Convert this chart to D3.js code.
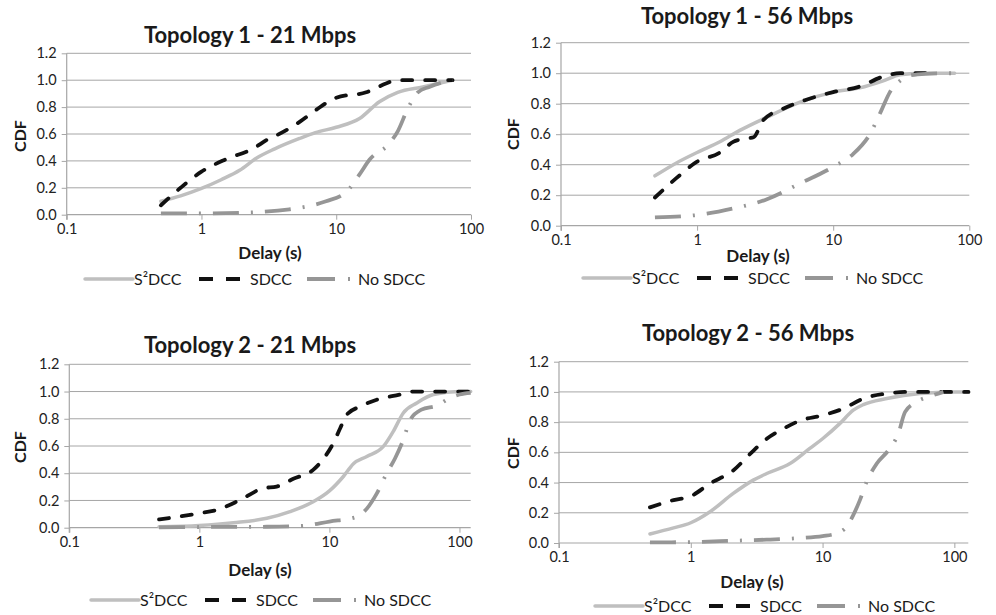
<!DOCTYPE html>
<html lang="en">
<head>
<meta charset="UTF-8">
<title>Delay CDF</title>
<script src="https://d3js.org/d3.v7.min.js"></script>
<style>
    html, body { margin: 0; background: #fff; }
    text { font-family: Lato, "Open Sans", sans-serif; fill: #1a1a1a; }
    .tick text { font-size: 14.5px; fill: #222; }
</style>
</head>
<body>
<svg id="chart" width="996" height="615"></svg>
<script>
// [delay (s), CDF]
var t1r21S2dcc = [[0.5,0.1],[0.7,0.14],[1,0.195],[1.4,0.26],[1.92,0.33],[2.55,0.42],[3.5,0.49],[5.35,0.567],[7,0.61],[10,0.65],[14.9,0.715],[20.9,0.84],[28.6,0.91],[43.9,0.95],[73,1.0]];
var t1r21Sdcc = [[0.5,0.07],[0.7,0.2],[1,0.32],[1.5,0.41],[2.4,0.49],[3.2,0.567],[3.6,0.59],[5.35,0.69],[7.1,0.78],[10,0.87],[16.7,0.91],[23.4,0.975],[27.8,1.0],[73,1.0]];
var t1r21NoSdcc = [[0.5,0.01],[1,0.01],[2,0.015],[4.5,0.04],[6,0.06],[8.4,0.1],[11.9,0.17],[14.9,0.3],[17.7,0.41],[24.8,0.53],[28.6,0.62],[34,0.79],[40.3,0.91],[49,0.95],[65,0.99],[73,1.0]];

var t1r56S2dcc = [[0.49,0.327],[0.7,0.41],[1,0.48],[1.47,0.55],[2.06,0.625],[3.23,0.71],[5.7,0.81],[10,0.876],[15.7,0.904],[23.3,0.95],[31,0.99],[44,1.0],[78,1.0]];
var t1r56Sdcc = [[0.49,0.185],[0.7,0.31],[1,0.42],[1.47,0.48],[1.84,0.55],[2.2,0.57],[2.6,0.58],[3.05,0.69],[4.29,0.767],[6.35,0.826],[10,0.876],[15.7,0.913],[23.3,0.978],[31,1.0],[55,1.0]];
var t1r56NoSdcc = [[0.49,0.054],[1,0.07],[1.84,0.113],[3.23,0.172],[5.7,0.277],[10,0.386],[14,0.47],[18.6,0.6],[22.6,0.756],[26.1,0.876],[31,0.95],[36.5,0.985],[48,0.996],[78,1.0]];

var t2r21S2dcc = [[0.49,0.007],[1,0.017],[1.83,0.037],[3.3,0.069],[4.98,0.118],[7.5,0.19],[10,0.27],[12.8,0.376],[15.3,0.47],[19.4,0.523],[26,0.597],[31,0.708],[37,0.843],[47,0.916],[63,0.978],[100,1.0],[122,1.0]];
var t2r21Sdcc = [[0.49,0.061],[1,0.106],[1.36,0.13],[2.06,0.204],[3.1,0.29],[3.93,0.302],[5.28,0.359],[7.5,0.425],[9.27,0.523],[10.7,0.62],[12.1,0.73],[13.6,0.83],[17.2,0.89],[23.1,0.94],[35,0.978],[44,1.0],[122,1.0]];
var t2r21NoSdcc = [[0.49,0.003],[1,0.005],[3.3,0.007],[5.9,0.012],[10,0.045],[16.2,0.08],[19.4,0.14],[23.1,0.25],[27.6,0.4],[32,0.51],[37,0.646],[41.7,0.79],[51,0.867],[67,0.897],[84.7,0.953],[100,0.978],[122,0.99]];

var t2r56S2dcc = [[0.49,0.06],[0.74,0.1],[1,0.134],[1.4,0.207],[2.1,0.328],[2.98,0.416],[3.77,0.46],[5.66,0.526],[8,0.626],[10,0.69],[13.5,0.79],[17.1,0.879],[20.4,0.916],[30.7,0.956],[55,0.99],[100,1.0],[128,1.0]];
var t2r56Sdcc = [[0.49,0.236],[0.74,0.284],[1,0.31],[1.4,0.394],[2.1,0.48],[2.82,0.59],[3.77,0.69],[5.05,0.757],[6.75,0.81],[10,0.845],[14.4,0.89],[20.4,0.956],[30.7,0.989],[43.4,1.0],[128,1.0]];
var t2r56NoSdcc = [[0.49,0.004],[1,0.006],[2.1,0.015],[3.77,0.022],[6.75,0.033],[10,0.046],[12.8,0.064],[15.2,0.108],[17.1,0.185],[19.2,0.284],[21.6,0.405],[25.8,0.526],[31.6,0.614],[37.6,0.725],[42.3,0.868],[51.8,0.934],[69,0.978],[82.6,1.0]];

var titles = ["Topology 1 - 21 Mbps", "Topology 1 - 56 Mbps", "Topology 2 - 21 Mbps", "Topology 2 - 56 Mbps"];
var seriesNames = ["S\u00B2DCC", "SDCC", "No SDCC"];
var xTicks = [0.1, 1, 10, 100];
var yTicks = [0, 0.2, 0.4, 0.6, 0.8, 1.0, 1.2];
var xMax = [100, 100, 122, 127.6];

var seriesData = [
    [t1r21S2dcc, t1r21Sdcc, t1r21NoSdcc],
    [t1r56S2dcc, t1r56Sdcc, t1r56NoSdcc],
    [t2r21S2dcc, t2r21Sdcc, t2r21NoSdcc],
    [t2r56S2dcc, t2r56Sdcc, t2r56NoSdcc]
];

// layout of each panel, in page pixels
var panels = [
    { left: 66.7, right: 471, bottom: 214.7, top: 53.3, title: [250, 35], xLabel: [270, 253], yLabel: [20, 136], legend: [85, 279] },
    { left: 561, right: 969.3, bottom: 225.7, top: 42.7, title: [747, 16], xLabel: [758, 256], yLabel: [513, 134], legend: [583, 278] },
    { left: 69.3, right: 470.7, bottom: 527.7, top: 364.3, title: [250, 345], xLabel: [260, 570], yLabel: [20, 447], legend: [91, 600] },
    { left: 559, right: 968.3, bottom: 543, top: 361.7, title: [748, 333], xLabel: [752, 582], yLabel: [513, 453], legend: [595, 606] }
];

var styles = [
    { color: "#bfbfbf", width: 3.5, dash: null, cap: "round", legendDash: null, legendLen: 48, legendCap: "round" },
    { color: "#111111", width: 3.8, dash: "10,13", cap: "round", legendDash: "14,13", legendLen: 42, legendCap: "butt" },
    { color: "#969696", width: 3.8, dash: "26,12,2,12", cap: "butt", legendDash: "28,13,2,40", legendLen: 44, legendCap: "butt" }
];
var legendOffsets = [0, 114, 222];
var legendTextOffsets = [49, 165, 273];

var svg = d3.select("#chart");
var gridColor = "#a6a6a6";

panels.forEach(function (p, i) {
    var g = svg.append("g");

    var x = d3.scaleLog().domain([0.1, xMax[i]]).range([p.left, p.right]);
    var y = d3.scaleLinear().domain([0, 1.2]).range([p.bottom, p.top]);

    // horizontal gridlines
    g.selectAll(".grid")
        .data(yTicks.slice(1))
        .enter().append("line")
        .attr("x1", p.left).attr("x2", p.right)
        .attr("y1", function (d) { return y(d); })
        .attr("y2", function (d) { return y(d); })
        .attr("stroke", gridColor)
        .attr("stroke-width", 1);

    var xAxis = g.append("g")
        .attr("transform", "translate(0," + p.bottom + ")")
        .call(d3.axisBottom(x).tickValues(xTicks).tickSize(5).tickPadding(4)
            .tickFormat(function (d) { return d < 1 ? "0.1" : String(d); }));

    var yAxis = g.append("g")
        .attr("transform", "translate(" + p.left + ",0)")
        .call(d3.axisLeft(y).tickValues(yTicks).tickSize(5).tickPadding(5).tickFormat(d3.format(".1f")));

    [xAxis, yAxis].forEach(function (a) {
        a.select(".domain").attr("stroke", gridColor).attr("stroke-width", 1.2);
        a.selectAll(".tick line").attr("stroke", gridColor);
        a.selectAll(".tick text").style("font-family", "Lato, sans-serif");
    });
    xAxis.select(".domain").attr("d", "M" + p.left + ",0H" + p.right);
    yAxis.select(".domain").attr("d", "M0," + (p.bottom + 5) + "V" + p.top);

    var line = d3.line()
        .x(function (d) { return x(d[0]); })
        .y(function (d) { return y(d[1]); })
        .curve(d3.curveMonotoneX);

    seriesData[i].forEach(function (s, k) {
        var st = styles[k];
        g.append("path")
            .datum(s)
            .attr("d", line)
            .attr("fill", "none")
            .attr("stroke", st.color)
            .attr("stroke-width", st.width)
            .attr("stroke-linecap", st.cap)
            .attr("stroke-dasharray", st.dash);
    });

    g.append("text")
        .attr("x", p.title[0]).attr("y", p.title[1])
        .attr("dy", "0.35em")
        .attr("text-anchor", "middle")
        .style("font-size", "22px")
        .style("font-weight", "bold")
        .text(titles[i]);

    g.append("text")
        .attr("x", p.xLabel[0]).attr("y", p.xLabel[1])
        .attr("dy", "0.35em")
        .attr("text-anchor", "middle")
        .style("font-size", "17px")
        .style("font-weight", "bold")
        .text("Delay (s)");

    g.append("text")
        .attr("transform", "translate(" + p.yLabel[0] + "," + p.yLabel[1] + ") rotate(-90)")
        .attr("dy", "0.35em")
        .attr("text-anchor", "middle")
        .style("font-size", "16px")
        .style("font-weight", "bold")
        .text("CDF");

    // legend
    var lg = g.append("g").attr("transform", "translate(" + p.legend[0] + "," + p.legend[1] + ")");
    seriesNames.forEach(function (name, k) {
        var st = styles[k];
        lg.append("line")
            .attr("x1", legendOffsets[k]).attr("x2", legendOffsets[k] + st.legendLen)
            .attr("y1", 0).attr("y2", 0)
            .attr("stroke", st.color)
            .attr("stroke-width", st.width)
            .attr("stroke-linecap", st.legendCap)
            .attr("stroke-dasharray", st.legendDash);
        lg.append("text")
            .attr("x", legendTextOffsets[k]).attr("y", 0)
            .attr("dy", "0.35em")
            .style("font-size", "16px")
            .text(name);
    });
});
</script>
</body>
</html>
